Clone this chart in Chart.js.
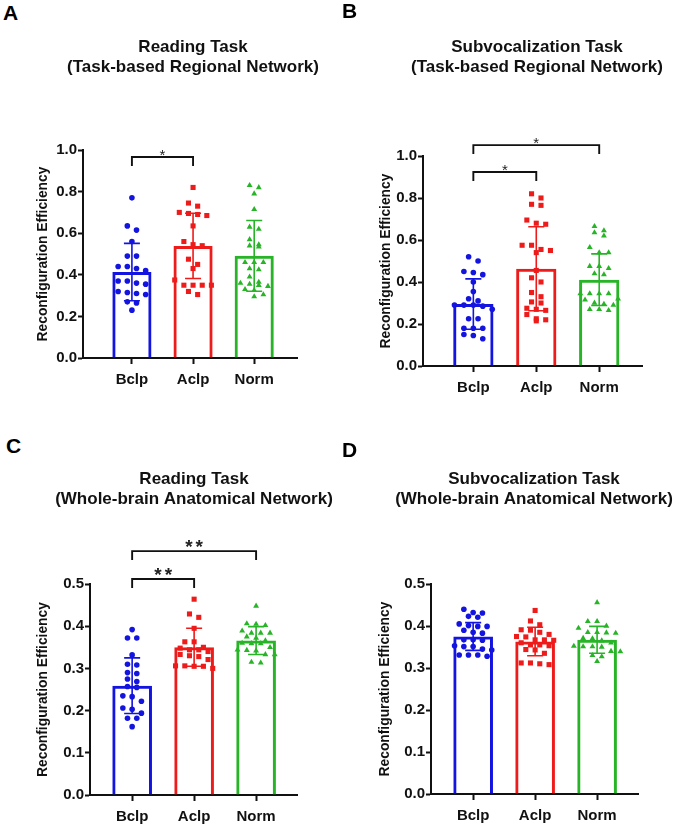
<!DOCTYPE html>
<html><head><meta charset="utf-8">
<script src="https://cdn.jsdelivr.net/npm/chart.js@4.4.1/dist/chart.umd.min.js"></script>
<style>
html,body{margin:0;padding:0;background:#fff;}
body{width:677px;height:826px;position:relative;overflow:hidden;font-family:'Liberation Sans',Arial,sans-serif;}
.cv{position:absolute;}
.lbl{position:absolute;font-weight:bold;font-size:21px;line-height:21px;color:#000;z-index:5;}
</style></head>
<body>
<canvas class="cv" id="cA" width="338" height="413" style="left:24px;top:0"></canvas>
<canvas class="cv" id="cB" width="338" height="413" style="left:368px;top:0"></canvas>
<canvas class="cv" id="cC" width="338" height="413" style="left:25px;top:413px"></canvas>
<canvas class="cv" id="cD" width="338" height="413" style="left:365px;top:413px"></canvas>
<div class="lbl" style="left:3px;top:2px">A</div>
<div class="lbl" style="left:342px;top:0px">B</div>
<div class="lbl" style="left:6px;top:435px">C</div>
<div class="lbl" style="left:342px;top:439px">D</div>
<script>
// ---------- data ----------
const CATS = ['Bclp', 'Aclp', 'Norm'];
const Y_LABEL = 'Reconfiguration Efficiency';

const A_TITLE = ['Reading Task', '(Task-based Regional Network)'];
const A_MEAN = [0.413, 0.539, 0.491];
const A_SD = [0.138, 0.157, 0.170];
const A_BCLP = [0.77, 0.635, 0.615, 0.56, 0.49, 0.49, 0.44, 0.44, 0.43, 0.42, 0.37, 0.37, 0.36, 0.355, 0.32, 0.31, 0.305, 0.315, 0.27, 0.265, 0.23];
const A_ACLP = [0.82, 0.745, 0.73, 0.70, 0.695, 0.69, 0.685, 0.635, 0.56, 0.545, 0.54, 0.475, 0.45, 0.43, 0.375, 0.35, 0.35, 0.35, 0.35, 0.32, 0.305];
const A_NORM = [0.83, 0.82, 0.79, 0.715, 0.63, 0.62, 0.57, 0.545, 0.54, 0.535, 0.46, 0.46, 0.46, 0.43, 0.425, 0.39, 0.365, 0.36, 0.355, 0.35, 0.345, 0.33, 0.325, 0.305, 0.295];
const A_COMP = [[0, 1, '*']];

const B_TITLE = ['Subvocalization Task', '(Task-based Regional Network)'];
const B_MEAN = [0.295, 0.463, 0.411];
const B_SD = [0.120, 0.200, 0.123];
const B_BCLP = [0.52, 0.50, 0.45, 0.445, 0.435, 0.40, 0.355, 0.32, 0.31, 0.29, 0.29, 0.29, 0.285, 0.27, 0.225, 0.225, 0.18, 0.18, 0.18, 0.15, 0.145, 0.13];
const B_ACLP = [0.82, 0.80, 0.77, 0.765, 0.695, 0.68, 0.675, 0.575, 0.575, 0.555, 0.55, 0.54, 0.455, 0.42, 0.40, 0.35, 0.33, 0.305, 0.30, 0.275, 0.27, 0.265, 0.245, 0.225, 0.22, 0.215];
const B_NORM = [0.665, 0.645, 0.635, 0.62, 0.565, 0.54, 0.54, 0.475, 0.475, 0.465, 0.44, 0.435, 0.345, 0.345, 0.345, 0.345, 0.32, 0.315, 0.30, 0.295, 0.29, 0.27, 0.27, 0.265];
const B_COMP = [[0, 2, '*'], [0, 1, '*']];

const C_TITLE = ['Reading Task', '(Whole-brain Anatomical Network)'];
const C_MEAN = [0.259, 0.350, 0.366];
const C_SD = [0.066, 0.045, 0.033];
const C_BCLP = [0.392, 0.372, 0.372, 0.332, 0.31, 0.308, 0.29, 0.288, 0.275, 0.269, 0.257, 0.255, 0.235, 0.233, 0.222, 0.206, 0.203, 0.194, 0.182, 0.182, 0.162];
const C_ACLP = [0.464, 0.429, 0.421, 0.395, 0.363, 0.363, 0.35, 0.348, 0.344, 0.344, 0.34, 0.333, 0.33, 0.328, 0.321, 0.306, 0.306, 0.305, 0.305, 0.30];
const C_NORM = [0.448, 0.406, 0.405, 0.402, 0.389, 0.384, 0.384, 0.384, 0.375, 0.372, 0.366, 0.36, 0.359, 0.359, 0.35, 0.344, 0.343, 0.342, 0.333, 0.333, 0.315, 0.313];
const C_COMP = [[0, 2, '**'], [0, 1, '**']];

const D_TITLE = ['Subvocalization Task', '(Whole-brain Anatomical Network)'];
const D_MEAN = [0.375, 0.363, 0.367];
const D_SD = [0.033, 0.034, 0.032];
const D_BCLP = [0.44, 0.432, 0.431, 0.423, 0.421, 0.405, 0.401, 0.399, 0.399, 0.39, 0.385, 0.383, 0.367, 0.367, 0.366, 0.353, 0.351, 0.351, 0.345, 0.343, 0.331, 0.331, 0.331, 0.328];
const D_ACLP = [0.437, 0.412, 0.403, 0.391, 0.39, 0.385, 0.38, 0.375, 0.374, 0.367, 0.367, 0.366, 0.36, 0.355, 0.355, 0.353, 0.344, 0.343, 0.335, 0.312, 0.312, 0.31, 0.308];
const D_NORM = [0.456, 0.411, 0.411, 0.40, 0.395, 0.385, 0.385, 0.384, 0.383, 0.371, 0.37, 0.365, 0.36, 0.352, 0.351, 0.351, 0.35, 0.34, 0.339, 0.33, 0.327, 0.316];
const D_COMP = [];

// ---------- styles ----------
const COLORS = ['#1414e0', '#ee1b1b', '#27b427'];
const SHAPES = ['circle', 'rect', 'triangle'];
const RADII = [2.8, 3.6, 3.4];
const FONT = "'Liberation Sans', Arial, sans-serif";
const TITLE_SIZE = 17, TITLE_LH = 1.2;

// beeswarm-like horizontal spreading of points inside each bar (layout only)
function swarm(values, center, yMax, plotH) {
  const thr = yMax * 5.5 / plotH;
  const step = 0.15;
  const sorted = values.slice().sort((a, b) => b - a);
  const rows = [];
  let cur = null;
  sorted.forEach(v => {
    if (!cur || cur.start - v > thr) { cur = {start: v, vals: []}; rows.push(cur); }
    cur.vals.push(v);
  });
  const pts = [];
  rows.forEach(r => {
    const n = r.vals.length;
    r.vals.forEach((v, i) => pts.push({x: center + (i - (n - 1) / 2) * step, y: v}));
  });
  return pts;
}

function overlay(means, sds, comps, levels, star) {
  return {
    id: 'overlay',
    afterDatasetsDraw(chart) {
      const {ctx, scales: {x, y}} = chart;
      ctx.save();
      means.forEach((m, i) => {
        const px = x.getPixelForValue(i);
        const yt = y.getPixelForValue(m + sds[i]);
        const yb = y.getPixelForValue(m - sds[i]);
        ctx.strokeStyle = COLORS[i];
        ctx.lineWidth = 1.6;
        ctx.beginPath();
        ctx.moveTo(px, yt); ctx.lineTo(px, yb);
        ctx.moveTo(px - 8, yt); ctx.lineTo(px + 8, yt);
        ctx.moveTo(px - 8, yb); ctx.lineTo(px + 8, yb);
        ctx.stroke();
      });
      ctx.restore();
    },
    afterDraw(chart) {
      const {ctx, scales: {x, y}} = chart;
      ctx.save();
      comps.forEach((c, k) => {
        const x1 = x.getPixelForValue(c[0]);
        const x2 = x.getPixelForValue(c[1]);
        const yl = y.getPixelForValue(levels[k]);
        ctx.strokeStyle = '#111';
        ctx.lineWidth = 1.9;
        ctx.beginPath();
        ctx.moveTo(x1, yl + 9); ctx.lineTo(x1, yl); ctx.lineTo(x2, yl); ctx.lineTo(x2, yl + 9);
        ctx.stroke();
        ctx.fillStyle = '#222';
        ctx.font = star.weight + ' ' + star.size + 'px ' + FONT;
        ctx.textAlign = 'center';
        ctx.textBaseline = 'alphabetic';
        ctx.letterSpacing = star.gap + 'px';
        ctx.fillText(c[2], (x1 + x2) / 2 + star.gap / 2, yl + star.dy);
      });
      ctx.restore();
    }
  };
}

function makeChart(id, p) {
  const plotH = p.bottom - p.top;
  const datasets = [{
    type: 'bar',
    data: p.means.map((m, i) => ({x: i, y: m})),
    backgroundColor: 'rgba(255,255,255,0)',
    borderColor: COLORS,
    borderWidth: 3,
    borderSkipped: 'start',
    categoryPercentage: 0.8,
    barPercentage: 0.8,
    order: 10
  }];
  p.groups.forEach((g, i) => {
    datasets.push({
      type: 'scatter',
      data: swarm(g, i, p.yMax, plotH),
      pointStyle: SHAPES[i],
      pointRadius: RADII[i],
      pointHoverRadius: RADII[i],
      backgroundColor: COLORS[i],
      borderColor: COLORS[i],
      borderWidth: 0,
      order: 1
    });
  });
  const lh = TITLE_SIZE * TITLE_LH;
  new Chart(document.getElementById(id), {
    type: 'bar',
    data: {datasets},
    plugins: [overlay(p.means, p.sds, p.comps, p.levels, p.star)],
    options: {
      responsive: false,
      animation: false,
      events: [],
      layout: {padding: 0},
      plugins: {
        legend: {display: false},
        tooltip: {enabled: false},
        title: {
          display: true,
          fullSize: true,
          align: 'center',
          text: p.title,
          color: '#111',
          font: {family: FONT, size: TITLE_SIZE, weight: 'bold', lineHeight: TITLE_LH},
          padding: {top: p.tCenter - lh / 2, bottom: p.top - (p.tCenter - lh / 2) - 2 * lh}
        }
      },
      scales: {
        x: {
          type: 'linear',
          offset: false,
          min: p.xmin, max: p.xmax,
          afterBuildTicks: s => { s.ticks = CATS.map((c, i) => ({value: i})); },
          afterFit: s => { s.height = 413 - p.bottom; },
          border: {display: true, color: '#111', width: 2},
          grid: {display: true, drawOnChartArea: false, drawTicks: true, tickLength: 6, tickWidth: 2, tickColor: '#111', offset: false},
          ticks: {
            autoSkip: false, maxRotation: 0, padding: 7,
            color: '#111', font: {family: FONT, size: 15, weight: 'bold'},
            callback: v => CATS[v]
          }
        },
        y: {
          min: 0, max: p.yMax,
          afterFit: s => { s.width = p.left; },
          border: {display: true, color: '#111', width: 2},
          grid: {display: true, drawOnChartArea: false, drawTicks: true, tickLength: 5, tickWidth: 2, tickColor: '#111'},
          ticks: {
            stepSize: p.yStep, padding: 1,
            color: '#111', font: {family: FONT, size: 15, weight: 'bold'},
            callback: v => Number(v).toFixed(1)
          },
          title: {
            display: true, text: Y_LABEL, color: '#111',
            font: {family: FONT, size: 13.8, weight: 'bold'},
            padding: {top: p.yTitleX - 13.8 * 0.6, bottom: 0}
          }
        },
        // empty right-hand margin so the title stays centred on the canvas
        yRight: {
          position: 'right',
          display: true,
          afterFit: s => { s.width = 338 - p.right; },
          border: {display: false},
          grid: {display: false},
          ticks: {display: false}
        }
      }
    }
  });
}

const STAR_SMALL = {size: 15, weight: 'normal', gap: 0, dy: 3};
const STAR_BIG = {size: 19, weight: 'bold', gap: 3, dy: 2};

// geometry below is in canvas coordinates (each canvas is offset so its centre sits under its title)
makeChart('cA', {title: A_TITLE, means: A_MEAN, sds: A_SD, groups: [A_BCLP, A_ACLP, A_NORM], comps: A_COMP, levels: [0.966],
  star: STAR_SMALL, tCenter: 47, top: 150, bottom: 358, left: 59, right: 273, xmin: -0.8, xmax: 2.7, yMax: 1.0, yStep: 0.2, yTitleX: 19});
makeChart('cB', {title: B_TITLE, means: B_MEAN, sds: B_SD, groups: [B_BCLP, B_ACLP, B_NORM], comps: B_COMP, levels: [1.052, 0.924],
  star: STAR_SMALL, tCenter: 47, top: 156, bottom: 366, left: 55, right: 274, xmin: -0.8, xmax: 2.68, yMax: 1.0, yStep: 0.2, yTitleX: 18});
makeChart('cC', {title: C_TITLE, means: C_MEAN, sds: C_SD, groups: [C_BCLP, C_ACLP, C_NORM], comps: C_COMP, levels: [0.578, 0.512],
  star: STAR_BIG, tCenter: 66, top: 171, bottom: 382, left: 65, right: 272, xmin: -0.68, xmax: 2.66, yMax: 0.5, yStep: 0.1, yTitleX: 18});
makeChart('cD', {title: D_TITLE, means: D_MEAN, sds: D_SD, groups: [D_BCLP, D_ACLP, D_NORM], comps: D_COMP, levels: [],
  star: STAR_BIG, tCenter: 66, top: 171, bottom: 381, left: 66, right: 273, xmin: -0.68, xmax: 2.66, yMax: 0.5, yStep: 0.1, yTitleX: 20});
</script>
</body></html>
